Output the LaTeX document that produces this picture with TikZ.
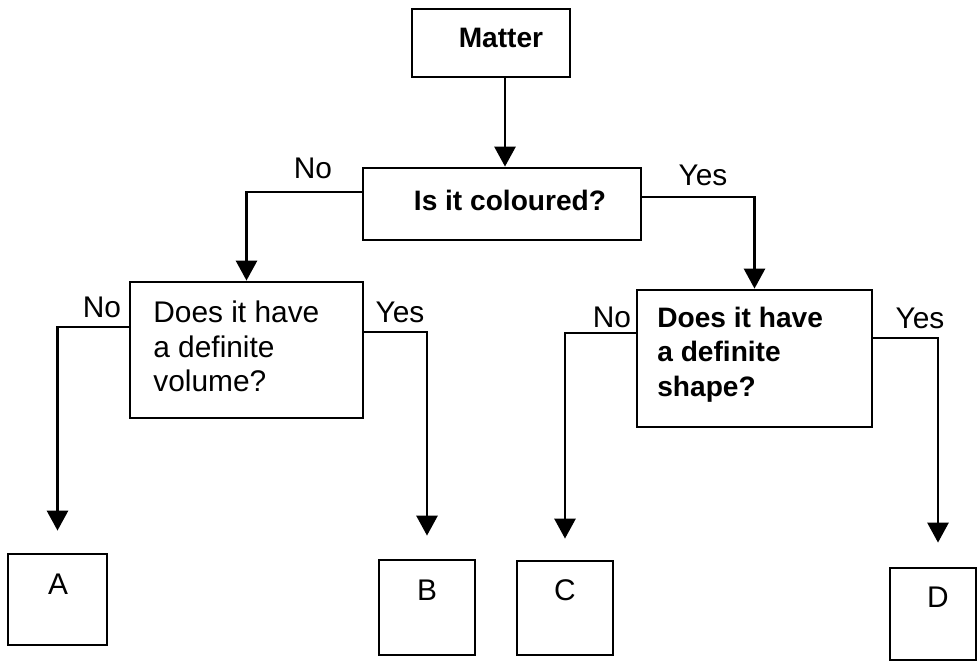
\documentclass[tikz,border=0pt]{standalone}
\usepackage{fontspec}
\setmainfont{Liberation Sans}
\usetikzlibrary{arrows.meta,calc}
\begin{document}
\begin{tikzpicture}[x=0.02cm,y=-0.02cm,
  box/.style={draw,line width=1.6pt,inner sep=0pt},
  conn/.style={line width=1.6pt},
  arr/.style={conn,-{Triangle[width=0.42cm,length=0.4cm]}},
  lbl/.style={font=\fontsize{17}{19.5}\selectfont,inner sep=0pt},
  bq/.style={font=\fontsize{16}{19.5}\selectfont\bfseries,inner sep=0pt},
  q/.style={align=left,anchor=north west,inner sep=0pt}]
\useasboundingbox (0,0) rectangle (977,662);
% boxes
\node[box,minimum width=3.16cm,minimum height=1.36cm] (matter) at (491,43) {};
\node[box,minimum width=5.56cm,minimum height=1.44cm] (coloured) at (502,204) {};
\node[box,minimum width=4.66cm,minimum height=2.72cm] (vol) at (246.5,350) {};
\node[box,minimum width=4.7cm,minimum height=2.74cm] (shp) at (754.5,358.5) {};
\node[box,minimum width=1.98cm,minimum height=1.82cm] (A) at (57.5,599.5) {};
\node[box,minimum width=1.92cm,minimum height=1.9cm] (B) at (427,607.5) {};
\node[box,minimum width=1.92cm,minimum height=1.88cm] (C) at (565,608) {};
\node[box,minimum width=1.72cm,minimum height=1.84cm] (D) at (933,614) {};
% texts
\node[bq] (tmatter) at (501,38) {Matter};
\node[bq] (tcol) at (510,200) {Is it coloured?};
\node[lbl,q] (tvol) at (153,301) {Does it have\\a definite\\volume?};
\node[bq,q] (tshp) at (657,307) {Does it have\\a definite\\shape?};
\node[lbl] (tA) at (58,584) {A};
\node[lbl] (tB) at (427,590) {B};
\node[lbl] (tC) at (565,590) {C};
\node[lbl] (tD) at (938,597) {D};
% branch labels
\node[lbl] (l1) at (313,168) {No};
\node[lbl] (l2) at (703,175) {Yes};
\node[lbl] (l3) at (102,307) {No};
\node[lbl] (l4) at (400,312) {Yes};
\node[lbl] (l5) at (612,317) {No};
\node[lbl] (l6) at (920,318) {Yes};
% connectors
\coordinate (m1) at ($(matter.south)+(14,0)$);
\draw[arr] (m1) -- (m1 |- coloured.north);
\coordinate (cL) at ($(coloured.west)+(0,-12)$);
\draw[arr] (cL) -| (vol.north);
\coordinate (cR) at ($(coloured.east)+(0,-7)$);
\draw[arr] (cR) -| (shp.north);
\coordinate (vL) at ($(vol.west)+(0,-23)$);
\draw[arr,shorten >=0.44cm] (vL) -| (A.north);
\coordinate (vR) at ($(vol.east)+(0,-18)$);
\draw[arr,shorten >=0.46cm] (vR) -| (B.north);
\coordinate (sL) at ($(shp.west)+(0,-25.5)$);
\draw[arr,shorten >=0.42cm] (sL) -| (C.north);
\coordinate (sR) at ($(shp.east)+(0,-20.5)$);
\coordinate (Dt) at ($(D.north)+(5,0)$);
\draw[arr,shorten >=0.48cm] (sR) -| (Dt);
\end{tikzpicture}
\end{document}
